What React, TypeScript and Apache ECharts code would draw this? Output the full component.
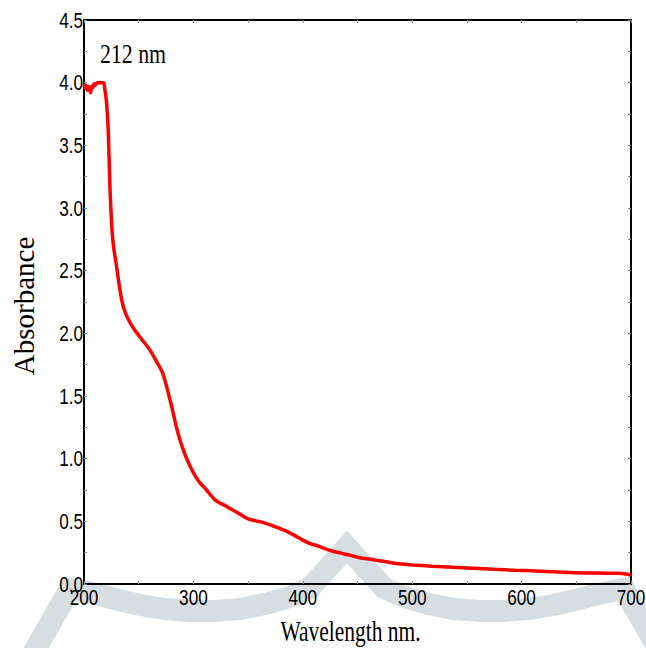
import React, { useEffect, useRef } from "react";
import * as echarts from "echarts";

const wavelength = [
  200, 201, 202, 203, 204, 205, 206, 207, 208, 209, 210, 212, 214, 216, 218,
  219, 220.5, 222, 223, 224, 225, 226, 227.5, 229.5, 233, 236, 240, 246, 253,
  260, 266, 272, 278.6, 286, 292, 297, 304, 312, 320, 330, 342, 350, 364, 374,
  383, 392, 400, 406, 415, 424, 433, 443, 452, 462, 470, 481, 490, 500, 518,
  537, 556, 575, 594, 613, 630, 650, 670, 688, 695, 700,
];
const absorbance = [
  3.99, 3.96, 3.98, 3.94, 3.97, 3.95, 3.92, 3.97, 3.96, 3.99, 3.98, 4.0, 4.0,
  4.0, 4.0, 3.95, 3.85, 3.65, 3.38, 3.1, 2.92, 2.78, 2.66, 2.55, 2.34, 2.21,
  2.12, 2.03, 1.95, 1.87, 1.78, 1.68, 1.47, 1.2, 1.04, 0.94, 0.83, 0.75, 0.67,
  0.62, 0.56, 0.52, 0.49, 0.46, 0.43, 0.39, 0.35, 0.325, 0.3, 0.27, 0.25, 0.23,
  0.21, 0.197, 0.185, 0.17, 0.16, 0.152, 0.142, 0.133, 0.125, 0.117, 0.11,
  0.104, 0.097, 0.09, 0.087, 0.085, 0.08, 0.072,
];
const xMin = 200;
const xMax = 700;
const xStep = 100;
const yMin = 0;
const yMax = 4.5;
const yStep = 0.5;
const xTickValues = [200, 300, 400, 500, 600, 700];
const xTickLabels = ["200", "300", "400", "500", "600", "700"];
const yTickValues = [0, 0.5, 1, 1.5, 2, 2.5, 3, 3.5, 4, 4.5];
const yTickLabels = ["0.0", "0.5", "1.0", "1.5", "2.0", "2.5", "3.0", "3.5", "4.0", "4.5"];
const peakLabel = "212 nm";
const xTitle = "Wavelength nm.";
const yTitle = "Absorbance";

// decorative watermark band (background logo)
const watermarkPoints: number[][] = [
  [28, 662], [70, 589], [92, 593], [115, 599], [140, 605], [165, 609],
  [190, 611], [215, 611], [240, 609], [265, 604], [290, 597], [310, 588],
  [347, 547], [384, 588], [404, 597], [429, 604], [454, 609], [479, 611],
  [504, 611], [529, 609], [554, 605], [579, 599], [602, 593], [624, 589],
  [666, 662],
];

export default function App() {
  const ref = useRef<HTMLDivElement>(null);
  useEffect(() => {
    document.body.style.margin = "0";
    document.body.style.overflow = "hidden";
    if (!ref.current) return;
    const chart = echarts.init(ref.current, null, { renderer: "svg", width: 646, height: 648 });
    const sans = "'Liberation Sans', Arial, sans-serif";
    const serif = "'Liberation Serif', 'Times New Roman', serif";
    const tickStyle = { show: true, inside: true, length: 3, lineStyle: { color: "#888", width: 1 } };
    const minor = { show: true, splitNumber: 2, length: 3, lineStyle: { color: "#888", width: 1 } };
    const axisBase = {
      type: "value",
      axisLine: { show: true, onZero: false, lineStyle: { color: "#000", width: 2 } },
      axisTick: tickStyle,
      minorTick: minor,
      splitLine: { show: false },
      axisLabel: { show: false },
      z: 3,
    };
    const baseGraphic: any[] = [
      {
        type: "polyline",
        z: -10,
        silent: true,
        shape: { points: watermarkPoints },
        style: { stroke: "#d6dee2", lineWidth: 22, fill: "none", lineJoin: "miter", miterLimit: 10 },
      },
      {
        type: "text",
        x: 100,
        y: 54,
        scaleX: 0.78,
        z: 10,
        style: { text: peakLabel, fontFamily: serif, fontSize: 28, fill: "#000", align: "left", verticalAlign: "middle" },
      },
      {
        type: "text",
        x: 350.5,
        y: 631,
        scaleX: 0.74,
        z: 10,
        style: { text: xTitle, fontFamily: serif, fontSize: 29, fill: "#000", align: "center", verticalAlign: "middle" },
      },
      {
        type: "text",
        x: 24,
        y: 306,
        rotation: Math.PI / 2,
        z: 10,
        style: { text: yTitle, fontFamily: serif, fontSize: 29, fill: "#000", align: "center", verticalAlign: "middle" },
      },
    ];
    chart.setOption({
      animation: false,
      backgroundColor: "#ffffff",
      grid: { left: 84, top: 20, right: 15, bottom: 64, containLabel: false, outerBoundsMode: "none" },
      xAxis: [
        { ...axisBase, min: xMin, max: xMax, interval: xStep, position: "bottom" },
        { ...axisBase, min: xMin, max: xMax, interval: xStep, position: "top" },
      ],
      yAxis: [
        { ...axisBase, min: yMin, max: yMax, interval: yStep, position: "left" },
        { ...axisBase, min: yMin, max: yMax, interval: yStep, position: "right" },
      ],
      graphic: baseGraphic,
      series: [
        {
          type: "line",
          xAxisIndex: 0,
          yAxisIndex: 0,
          data: wavelength.map((w, i) => [w, absorbance[i]]),
          showSymbol: false,
          smooth: 0.3,
          lineStyle: { color: "#ff0000", width: 3.5 },
          z: 5,
        },
      ],
    });
    // tick labels: condensed text placed with the axes' own scales
    const axisX0 = chart.convertToPixel({ xAxisIndex: 0 }, xMin) as number;
    const axisY0 = chart.convertToPixel({ yAxisIndex: 0 }, yMin) as number;
    const xLabelGraphics = xTickValues.map((v, i) => ({
      type: "text",
      x: chart.convertToPixel({ xAxisIndex: 0 }, v) as number,
      y: axisY0 + 2,
      scaleX: 0.78,
      z: 8,
      style: { text: xTickLabels[i], fontFamily: sans, fontSize: 22, fill: "#000", align: "center", verticalAlign: "top" },
    }));
    const yLabelGraphics = yTickValues.map((v, i) => ({
      type: "text",
      x: axisX0 - 1,
      y: chart.convertToPixel({ yAxisIndex: 0 }, v) as number,
      scaleX: 0.78,
      z: 8,
      style: { text: yTickLabels[i], fontFamily: sans, fontSize: 22, fill: "#000", align: "right", verticalAlign: "middle" },
    }));
    chart.setOption({ graphic: [...baseGraphic, ...xLabelGraphics, ...yLabelGraphics] });
    return () => chart.dispose();
  }, []);
  return <div ref={ref} style={{ width: 646, height: 648 }} />;
}
